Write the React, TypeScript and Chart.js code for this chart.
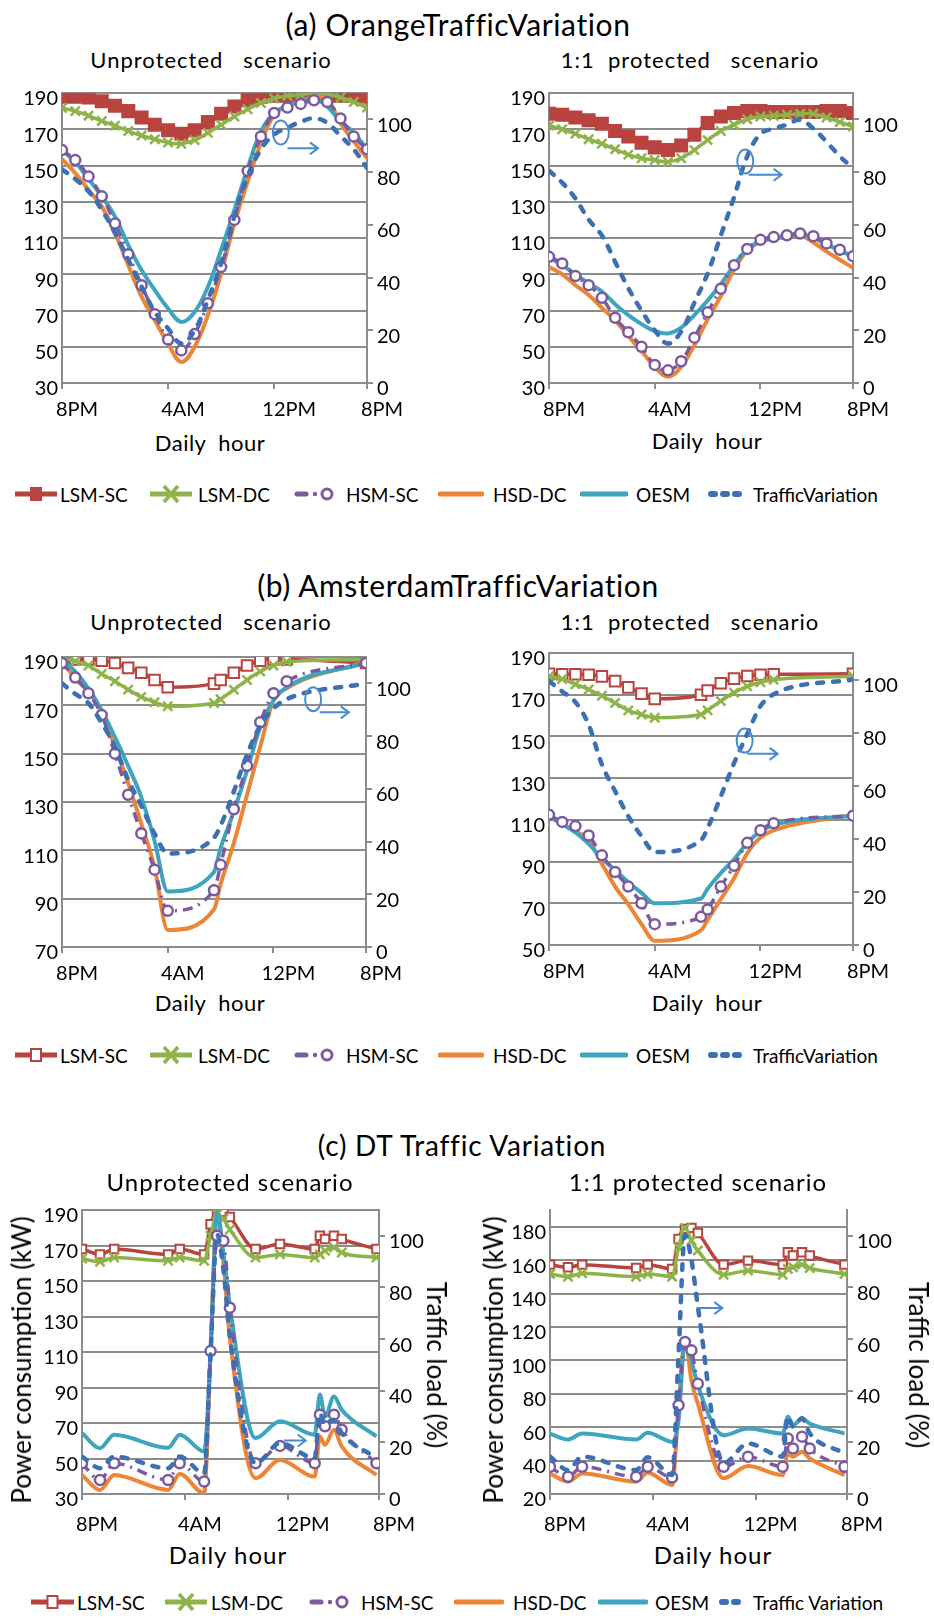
import React, { useEffect, useRef } from "react";
import { Chart, registerables } from "chart.js";

Chart.register(...registerables);

const FONT = "Lato, 'Open Sans', 'DejaVu Sans', sans-serif";

// ---------------- Data ----------------
const SERIES_NAMES = ["LSM-SC", "LSM-DC", "HSM-SC", "HSD-DC", "OESM", "TrafficVariation"];
const SERIES_NAMES_C = ["LSM-SC", "LSM-DC", "HSM-SC", "HSD-DC", "OESM", "Traffic Variation"];
const X_TICK_LABELS = ["8PM", "4AM", "12PM", "8PM"];
const RIGHT_TICKS = [0, 20, 40, 60, 80, 100];
const LEFT_TICKS_A = [30, 50, 70, 90, 110, 130, 150, 170, 190];
const LEFT_TICKS_B_UNPROT = [70, 90, 110, 130, 150, 170, 190];
const LEFT_TICKS_B_PROT = [50, 70, 90, 110, 130, 150, 170, 190];
const LEFT_TICKS_C_UNPROT = [30, 50, 70, 90, 110, 130, 150, 170, 190];
const LEFT_TICKS_C_PROT = [20, 40, 60, 80, 100, 120, 140, 160, 180];

// (a) Orange traffic variation, hourly from 8PM
const HOURS_A = [0, 1, 2, 3, 4, 5, 6, 7, 8, 9, 10, 11, 12, 13, 14, 15, 16, 17, 18, 19, 20, 21, 22, 23];
const A_UNP_LSM_SC = [188, 188, 187.5, 185.5, 183, 180, 176.5, 172.5, 169.5, 167.5, 169.5, 174, 178.5, 182.5, 186, 188, 188.5, 188.5, 188.5, 188.5, 188.5, 188.5, 188.5, 188];
const A_UNP_LSM_DC = [181.7, 180, 177.5, 174.5, 172, 169, 166.5, 164.5, 162.7, 162, 164, 168, 172.5, 177, 181, 184.5, 187, 188.5, 189, 190, 189.5, 187.5, 185, 182];
const A_UNP_HSM_SC = [158.5, 153, 144, 133, 118, 101, 84, 68, 54, 48, 57, 74, 94, 120, 147, 166, 179, 182, 184, 186, 185, 176, 166, 159];
const A_UNP_HSD_DC = [153.5, 145.8, 136.5, 127.3, 112.6, 95, 77.6, 64.6, 51.7, 41.6, 50, 67.4, 90.5, 118, 141, 162.4, 178, 183, 185.4, 187.6, 186.3, 173.4, 163.3, 154];
const A_UNP_OESM = [158.7, 151.8, 142.6, 132.9, 121.8, 106.1, 92.3, 81.2, 71.1, 63.7, 69.2, 83, 103.4, 125.5, 148.6, 168.8, 179, 183, 185.4, 186.9, 182.6, 174.3, 168.2, 158.7];
const A_UNP_TRAFFIC = [81, 77.4, 72.7, 65.7, 56.9, 46.7, 36.5, 27, 20.7, 15, 20, 31.5, 45.4, 63.2, 78.4, 88.6, 94.3, 96.8, 99.1, 100.4, 98.7, 93.7, 88.6, 81.6];

const A_PRO_LSM_SC = [178.6, 178, 176.5, 175, 173, 169, 166, 162.5, 160, 158.5, 161, 167, 173.5, 177, 179, 180, 180, 179.5, 179.5, 179.5, 179.5, 180, 180, 179];
const A_PRO_LSM_DC = [172, 170, 167.5, 164.5, 162, 159, 156, 154, 153, 152, 154, 158.5, 164, 169, 172.5, 175.5, 177, 177.5, 178, 178.5, 178.5, 176.5, 174, 171.5];
const A_PRO_HSM_SC = [99.6, 96, 89, 84, 77, 66, 58, 50, 40, 37, 42, 55, 69, 82, 95, 104, 109, 110.5, 111.5, 112.5, 111, 107, 103.5, 100];
const A_PRO_HSD_DC = [94, 90, 84, 78.5, 71.5, 64.5, 56, 47.5, 39, 33.4, 39, 51, 65, 78, 92.5, 103, 108, 109.5, 110.5, 111.5, 107.5, 102.5, 98, 93.5];
const A_PRO_OESM = [99.2, 95, 90, 85, 80.5, 73.5, 67.5, 62.5, 58.7, 57.3, 60.5, 67.5, 75.5, 84.5, 95, 104, 108, 110, 111.2, 112.2, 110, 106.5, 103, 100];
const A_PRO_TRAFFIC = [80.5, 76, 70, 62, 56, 46, 36, 27.5, 20, 15, 19.5, 30.5, 41.5, 56, 70.5, 86, 94.5, 96.5, 98, 99.8, 96.5, 91.5, 86, 81.5];

// (b) Amsterdam traffic variation
const HOURS_B = [0, 1, 2, 3, 4, 5, 6, 7, 8, 11.5, 12, 13, 14, 15, 16, 17, 23];
const B_UNP_LSM_SC = [187.5, 189, 189, 188.5, 187.5, 185.5, 183.5, 180.5, 177.5, 179, 180.5, 183.5, 186.5, 188.5, 189, 189, 187.5];
const B_UNP_LSM_DC = [189.6, 188.3, 186.5, 183, 180, 176.5, 173.5, 171.3, 169.6, 171, 172.5, 176.5, 180.5, 184, 186.5, 188, 189];
const B_UNP_HSM_SC = [187.5, 181.5, 175, 166, 150, 133, 117, 102, 85, 93.5, 104, 127, 145, 163, 175, 180, 187.5];
const B_UNP_HSD_DC = [189, 181, 176, 167, 153, 138, 121, 103, 77, 85.5, 96, 113, 133, 153, 172, 177, 188];
const B_UNP_OESM = [189, 184, 177, 168, 157, 145, 132, 114, 93, 101, 111, 126, 143, 161, 172, 177.5, 187.5];
const B_UNP_TRAFFIC = [100, 96, 92.5, 85, 76, 63.5, 53.5, 43, 35.5, 41.5, 46, 59, 73, 84, 90.5, 94, 100];

const B_PRO_LSM_SC = [180, 179.8, 179.8, 179.6, 178.8, 176.5, 173.5, 170.5, 168, 170, 172, 175.5, 177.7, 179, 179.6, 179.8, 180];
const B_PRO_LSM_DC = [178.8, 177.5, 175, 172.5, 169.5, 166, 162.5, 160.5, 159, 160.5, 162.5, 167, 171, 174, 176, 177.2, 178.8];
const B_PRO_HSM_SC = [112.4, 109, 107, 102.5, 93, 85, 78, 70, 60, 63.5, 67, 78, 88, 99, 105, 108.4, 112];
const B_PRO_HSD_DC = [111.6, 108, 104.5, 100.5, 89, 78, 69.5, 60, 52, 57, 62, 72, 82, 94, 101.5, 105, 112.4];
const B_PRO_OESM = [111.6, 108, 104, 98.5, 91.5, 86, 80, 75, 70, 72.3, 77, 84.5, 91, 99, 104.5, 107.5, 112];
const B_PRO_TRAFFIC = [99.4, 95.5, 91.5, 83, 68, 58, 48.5, 41, 35, 39.5, 44, 56, 68.5, 79.5, 90, 94.5, 100];

// (c) DT traffic variation
const HOURS_C = [0, 1.4, 2.5, 6.7, 7.6, 9.5, 10, 10.5, 11, 11.5, 13.5, 15.4, 18.1, 18.5, 18.9, 19.6, 20.2, 22.9];
const C_UNP_LSM_SC = [168, 165, 168, 165, 168, 165, 182, 188.5, 189, 186, 168, 170.8, 168, 175.5, 173.6, 175.5, 173.6, 168];
const C_UNP_LSM_DC = [162.7, 160.8, 163.2, 161.4, 163.2, 161.4, 175.5, 187.7, 185, 179, 163.2, 165, 163.2, 165, 167, 168.9, 166, 163.2];
const C_UNP_HSM_SC = [47.3, 37.9, 47.3, 37.9, 47.3, 37, 110.5, 175.5, 172.7, 135, 47.3, 57.1, 47.3, 74.7, 68.1, 74.7, 66.2, 47.3];
const C_UNP_HSD_DC = [40.7, 32.3, 40.7, 32.3, 41.3, 30.4, 109.5, 189.6, 160, 118, 38.9, 49.2, 39.8, 62.4, 57.7, 66.2, 56.8, 40.7];
const C_UNP_OESM = [64.3, 55.8, 63.4, 56, 63.4, 54, 109.5, 188.7, 166, 136, 61.5, 71, 63.4, 86, 73.6, 85, 77.5, 62.4];
const C_UNP_TRAFFIC = [14.5, 10, 14.5, 10, 14.5, 8, 54.7, 100.6, 87, 61.1, 11.9, 19.7, 13.9, 31.3, 26.8, 28.8, 23.6, 13.9];

const C_PRO_LSM_SC = [157.3, 155.7, 157.3, 155.3, 157.3, 154.7, 172.7, 178.7, 179.3, 176.3, 157.3, 159.7, 157.3, 164.7, 162.7, 164.7, 162.7, 157.3];
const C_PRO_LSM_DC = [151.7, 150.1, 152.1, 150.1, 151.7, 150.1, 167.7, 179.3, 171.7, 165.7, 151.3, 153.7, 151.3, 154.7, 155.7, 157.3, 155.3, 151.7];
const C_PRO_HSM_SC = [36.3, 30.3, 36.3, 30.3, 36.3, 29.9, 73.1, 111, 106, 86, 36.3, 42.3, 36.3, 53.2, 47.3, 54.3, 47.3, 36.3];
const C_PRO_HSD_DC = [32.3, 27.4, 32.3, 27.4, 32.7, 25.4, 72, 112.9, 88, 74, 29.4, 36.7, 31.3, 44.3, 42.3, 45.3, 41.3, 31.3];
const C_PRO_OESM = [56.2, 52.6, 56.2, 52.6, 56.6, 51.2, 64.2, 112.9, 100, 85, 55.2, 59.2, 56.2, 66.2, 61.2, 65.2, 62.2, 56.2];
const C_PRO_TRAFFIC = [14.5, 9.3, 14.5, 9.3, 14.2, 7.4, 54.5, 100.4, 90.7, 72.6, 11.9, 19.6, 14.5, 30, 26.1, 29.3, 23.5, 15.8];

// ---------------- Styles ----------------
const RED = "#b8433f";
const GREEN = "#8db34a";
const PURPLE = "#7b5aa0";
const ORANGE = "#ec8535";
const TEAL = "#3da5bd";
const BLUE = "#3d6fb3";
const ANNOT = "#4a8bd0";
const GRID = "#8c8c8c";

type Panel = {
  left: number; top: number; width: number; height: number;
  plotL: number; plotR: number; plotT: number; plotB: number;
  hours: number[]; xMax: number; xPad: number;
  yMin: number; yMax: number; yTicks: number[];
  series: number[][];
  hollow: boolean; squareR: number;
  smooth: "bezier" | "monotone";
  ellipse?: [number, number];
  arrow: [number, number, number];
};

const PANELS: Panel[] = [
  { left: 0, top: 76, width: 465, height: 344, plotL: 62, plotR: 367, plotT: 93, plotB: 383,
    hours: HOURS_A, xMax: 23, xPad: 9, yMin: 30, yMax: 190, yTicks: LEFT_TICKS_A,
    series: [A_UNP_LSM_SC, A_UNP_LSM_DC, A_UNP_HSM_SC, A_UNP_HSD_DC, A_UNP_OESM, A_UNP_TRAFFIC],
    hollow: false, squareR: 8.5, smooth: "bezier", ellipse: [16.5, 95], arrow: [17.0, 19.3, 89] },
  { left: 467, top: 76, width: 467, height: 344, plotL: 549, plotR: 853, plotT: 93, plotB: 383,
    hours: HOURS_A, xMax: 23, xPad: 9, yMin: 30, yMax: 190, yTicks: LEFT_TICKS_A,
    series: [A_PRO_LSM_SC, A_PRO_LSM_DC, A_PRO_HSM_SC, A_PRO_HSD_DC, A_PRO_OESM, A_PRO_TRAFFIC],
    hollow: false, squareR: 8.5, smooth: "bezier", ellipse: [14.85, 84], arrow: [15.1, 17.6, 79] },
  { left: 0, top: 640, width: 465, height: 340, plotL: 62, plotR: 366, plotT: 657, plotB: 947,
    hours: HOURS_B, xMax: 23, xPad: 9, yMin: 70, yMax: 190, yTicks: LEFT_TICKS_B_UNPROT,
    series: [B_UNP_LSM_SC, B_UNP_LSM_DC, B_UNP_HSM_SC, B_UNP_HSD_DC, B_UNP_OESM, B_UNP_TRAFFIC],
    hollow: true, squareR: 7.5, smooth: "monotone", ellipse: [19.0, 94], arrow: [19.5, 21.7, 89] },
  { left: 467, top: 636, width: 467, height: 344, plotL: 549, plotR: 853, plotT: 653, plotB: 945,
    hours: HOURS_B, xMax: 23, xPad: 9, yMin: 50, yMax: 190, yTicks: LEFT_TICKS_B_PROT,
    series: [B_PRO_LSM_SC, B_PRO_LSM_DC, B_PRO_HSM_SC, B_PRO_HSD_DC, B_PRO_OESM, B_PRO_TRAFFIC],
    hollow: true, squareR: 7.5, smooth: "monotone", ellipse: [14.8, 77], arrow: [15.0, 17.3, 72] },
  { left: 0, top: 1193, width: 465, height: 339, plotL: 82, plotR: 379, plotT: 1210, plotB: 1494,
    hours: HOURS_C, xMax: 23.1, xPad: 13, yMin: 30, yMax: 190, yTicks: LEFT_TICKS_C_UNPROT,
    series: [C_UNP_LSM_SC, C_UNP_LSM_DC, C_UNP_HSM_SC, C_UNP_HSD_DC, C_UNP_OESM, C_UNP_TRAFFIC],
    hollow: true, squareR: 6, smooth: "monotone", arrow: [15.7, 17.4, 20.7] },
  { left: 467, top: 1193, width: 467, height: 339, plotL: 550, plotR: 847, plotT: 1210, plotB: 1494,
    hours: HOURS_C, xMax: 23.1, xPad: 13, yMin: 20, yMax: 190, yTicks: LEFT_TICKS_C_PROT,
    series: [C_PRO_LSM_SC, C_PRO_LSM_DC, C_PRO_HSM_SC, C_PRO_HSD_DC, C_PRO_OESM, C_PRO_TRAFFIC],
    hollow: true, squareR: 6, smooth: "monotone", arrow: [11.4, 13.4, 72] },
];

function hintPlugin(p: Panel) {
  return {
    id: "axisHint",
    afterDatasetsDraw(chart: any) {
      const { ctx, scales } = chart;
      const xs = scales.x;
      const ys = scales.y1;
      ctx.save();
      ctx.strokeStyle = ANNOT;
      ctx.lineWidth = 2;
      if (p.ellipse) {
        ctx.beginPath();
        ctx.ellipse(xs.getPixelForValue(p.ellipse[0]), ys.getPixelForValue(p.ellipse[1]), 8, 12, 0, 0, Math.PI * 2);
        ctx.stroke();
      }
      const x0 = xs.getPixelForValue(p.arrow[0]);
      const x1 = xs.getPixelForValue(p.arrow[1]);
      const yy = ys.getPixelForValue(p.arrow[2]);
      ctx.beginPath();
      ctx.moveTo(x0, yy);
      ctx.lineTo(x1, yy);
      ctx.moveTo(x1 - 8, yy - 6);
      ctx.lineTo(x1, yy);
      ctx.lineTo(x1 - 8, yy + 6);
      ctx.stroke();
      ctx.restore();
    },
  };
}

function makeConfig(p: Panel): any {
  const pts = (vals: number[]) => p.hours.map((h, i) => ({ x: h, y: vals[i] }));
  const curve = p.smooth === "monotone"
    ? { cubicInterpolationMode: "monotone" as const, tension: 0.4 }
    : { tension: 0.4 };
  const tickFont = { family: FONT, size: 20 };
  const datasets = [
    { label: SERIES_NAMES[5], data: pts(p.series[5]), yAxisID: "y1", borderColor: BLUE, borderWidth: 4.5,
      borderDash: [6, 10], borderCapStyle: "round", pointRadius: 0, order: 0, ...curve },
    { label: SERIES_NAMES[2], data: pts(p.series[2]), yAxisID: "y", borderColor: PURPLE, borderWidth: 3.5,
      borderDash: [10, 6, 2, 6], pointStyle: "circle", pointRadius: 5, pointBorderWidth: 2.5,
      pointBackgroundColor: "#ffffff", pointBorderColor: PURPLE, order: 1, ...curve },
    { label: SERIES_NAMES[4], data: pts(p.series[4]), yAxisID: "y", borderColor: TEAL, borderWidth: 4,
      pointRadius: 0, order: 2, ...curve },
    { label: SERIES_NAMES[3], data: pts(p.series[3]), yAxisID: "y", borderColor: ORANGE, borderWidth: 4,
      pointRadius: 0, order: 3, ...curve },
    { label: SERIES_NAMES[1], data: pts(p.series[1]), yAxisID: "y", borderColor: GREEN, borderWidth: 3.5,
      pointStyle: "crossRot", pointRadius: 6.5, pointBorderWidth: 2.5, pointBorderColor: GREEN, order: 4, ...curve },
    { label: SERIES_NAMES[0], data: pts(p.series[0]), yAxisID: "y", borderColor: RED, borderWidth: 3.5,
      pointStyle: "rect", pointRadius: p.squareR, pointBorderWidth: 2,
      pointBackgroundColor: p.hollow ? "#ffffff" : RED, pointBorderColor: RED, order: 5, ...curve },
  ];
  const xTicks = [0, 8, 16, p.xMax];
  return {
    type: "line",
    data: { datasets },
    options: {
      responsive: false,
      animation: false,
      devicePixelRatio: 1,
      events: [],
      layout: { padding: { top: p.plotT - p.top, left: 0, right: 0, bottom: 0 } },
      plugins: { legend: { display: false }, tooltip: { enabled: false }, title: { display: false } },
      scales: {
        x: {
          type: "linear", min: 0, max: p.xMax,
          afterBuildTicks: (s: any) => { s.ticks = xTicks.map((v) => ({ value: v })); },
          ticks: { callback: (_v: any, i: number) => X_TICK_LABELS[i], font: tickFont, color: "#000",
            labelOffset: 15, padding: p.xPad, maxRotation: 0, minRotation: 0, autoSkip: false },
          grid: { drawOnChartArea: false, color: GRID, lineWidth: 2, tickLength: 6 },
          border: { color: GRID, width: 2 },
          afterFit: (s: any) => { s.height = p.top + p.height - p.plotB; },
        },
        y: {
          position: "left", min: p.yMin, max: p.yMax,
          afterBuildTicks: (s: any) => { s.ticks = p.yTicks.map((v) => ({ value: v })); },
          ticks: { font: tickFont, color: "#000", padding: 4, labelOffset: 6 },
          grid: { color: GRID, lineWidth: 2, drawTicks: false },
          border: { color: GRID, width: 2 },
          afterFit: (s: any) => { s.width = p.plotL - p.left; },
        },
        y1: {
          position: "right", min: 0, max: 110,
          afterBuildTicks: (s: any) => { s.ticks = RIGHT_TICKS.map((v) => ({ value: v })); },
          ticks: { font: tickFont, color: "#000", padding: 4, labelOffset: 6 },
          grid: { drawOnChartArea: false, color: GRID, lineWidth: 2, tickLength: 6 },
          border: { color: GRID, width: 2 },
          afterFit: (s: any) => { s.width = p.left + p.width - p.plotR; },
        },
      },
    },
    plugins: [hintPlugin(p)],
  };
}

function PanelChart({ p }: { p: Panel }) {
  const ref = useRef<HTMLCanvasElement | null>(null);
  useEffect(() => {
    if (!ref.current) return;
    const chart = new Chart(ref.current, makeConfig(p));
    return () => chart.destroy();
  }, [p]);
  return (
    <canvas ref={ref} width={p.width} height={p.height}
      style={{ position: "absolute", left: p.left, top: p.top, width: p.width, height: p.height }} />
  );
}

function Txt({ x, y, s, children, ls = 0, rot = 0, anchor = "middle" }:
  { x: number; y: number; s: number; children: any; ls?: number; rot?: number; anchor?: "middle" | "start" }) {
  return (
    <div style={{
      position: "absolute", left: x, top: y,
      transform: `translate(${anchor === "middle" ? "-50%" : "0"}, -50%) rotate(${rot}deg)`,
      fontFamily: FONT, fontSize: s, lineHeight: 1, whiteSpace: "pre", color: "#000", letterSpacing: ls,
    }}>{children}</div>
  );
}

function Icon({ kind, hollow, w }: { kind: number; hollow: boolean; w: number }) {
  const h = 20, cy = 10;
  if (kind === 0) return (
    <svg width={w} height={h}>
      <line x1={0} y1={cy} x2={w} y2={cy} stroke={RED} strokeWidth={5} />
      <rect x={w / 2 - 5} y={cy - 6} width={10} height={12} fill={hollow ? "#fff" : RED} stroke={RED} strokeWidth={2} />
    </svg>);
  if (kind === 1) return (
    <svg width={w} height={h}>
      <line x1={0} y1={cy} x2={w} y2={cy} stroke={GREEN} strokeWidth={5} />
      <line x1={w / 2 - 7} y1={cy - 8} x2={w / 2 + 7} y2={cy + 8} stroke={GREEN} strokeWidth={3.5} />
      <line x1={w / 2 - 7} y1={cy + 8} x2={w / 2 + 7} y2={cy - 8} stroke={GREEN} strokeWidth={3.5} />
    </svg>);
  if (kind === 2) return (
    <svg width={w} height={h}>
      <line x1={3} y1={cy} x2={12} y2={cy} stroke={PURPLE} strokeWidth={5} strokeLinecap="round" />
      <circle cx={21} cy={cy} r={2.2} fill={PURPLE} />
      <circle cx={33} cy={cy} r={5} fill="#fff" stroke={PURPLE} strokeWidth={3} />
    </svg>);
  if (kind === 3) return (
    <svg width={w} height={h}><line x1={2} y1={cy} x2={w - 2} y2={cy} stroke={ORANGE} strokeWidth={5} strokeLinecap="round" /></svg>);
  if (kind === 4) return (
    <svg width={w} height={h}><line x1={2} y1={cy} x2={w - 2} y2={cy} stroke={TEAL} strokeWidth={5} strokeLinecap="round" /></svg>);
  return (
    <svg width={w} height={h}><line x1={4} y1={cy} x2={w - 3} y2={cy} stroke={BLUE} strokeWidth={6} strokeLinecap="round" strokeDasharray="4 8" /></svg>);
}

// [icon left, text left, icon width]
const LEGEND_POS_AB: [number, number, number][] = [[15, 60, 42], [150, 198, 42], [294, 346, 42], [438, 493, 46], [580, 636, 48], [707, 753, 42]];
const LEGEND_POS_C: [number, number, number][] = [[31, 77, 43], [165, 211, 42], [309, 361, 46], [454, 513, 50], [598, 655, 50], [718, 753, 31]];

function Legend({ y, pos, names, hollow }: { y: number; pos: [number, number, number][]; names: string[]; hollow: boolean }) {
  return (
    <>
      {pos.map(([ix, tx, w], k) => (
        <React.Fragment key={k}>
          <div style={{ position: "absolute", left: ix, top: y - 10, width: w, height: 20 }}>
            <Icon kind={k} hollow={hollow} w={w} />
          </div>
          <Txt x={tx} y={y} s={19} anchor="start">{names[k]}</Txt>
        </React.Fragment>
      ))}
    </>
  );
}

export default function App() {
  return (
    <div style={{ position: "absolute", left: 0, top: 0, width: 934, height: 1619, background: "#fff", overflow: "hidden" }}>
      {PANELS.map((p, i) => <PanelChart key={i} p={p} />)}

      <Txt x={458} y={24} s={30} ls={0.6}>(a) OrangeTrafficVariation</Txt>
      <Txt x={211} y={60} s={22} ls={1}>Unprotected   scenario</Txt>
      <Txt x={690} y={60} s={22} ls={1}>1:1  protected   scenario</Txt>
      <Txt x={210} y={443} s={22} ls={0.5}>Daily  hour</Txt>
      <Txt x={707} y={441} s={22} ls={0.5}>Daily  hour</Txt>
      <Legend y={494} pos={LEGEND_POS_AB} names={SERIES_NAMES} hollow={false} />

      <Txt x={458} y={585} s={30} ls={0.6}>(b) AmsterdamTrafficVariation</Txt>
      <Txt x={211} y={622} s={22} ls={1}>Unprotected   scenario</Txt>
      <Txt x={690} y={622} s={22} ls={1}>1:1  protected   scenario</Txt>
      <Txt x={210} y={1003} s={22} ls={0.5}>Daily  hour</Txt>
      <Txt x={707} y={1003} s={22} ls={0.5}>Daily  hour</Txt>
      <Legend y={1055} pos={LEGEND_POS_AB} names={SERIES_NAMES} hollow={true} />

      <Txt x={462} y={1145} s={28} ls={0.8}>(c) DT Traffic Variation</Txt>
      <Txt x={230} y={1182} s={24} ls={1}>Unprotected scenario</Txt>
      <Txt x={698} y={1182} s={24} ls={1}>1:1 protected scenario</Txt>
      <Txt x={228} y={1555} s={24} ls={1}>Daily hour</Txt>
      <Txt x={713} y={1555} s={24} ls={1}>Daily hour</Txt>
      <Txt x={21} y={1360} s={26} rot={-90}>Power consumption (kW)</Txt>
      <Txt x={493} y={1360} s={26} rot={-90}>Power consumption (kW)</Txt>
      <Txt x={437} y={1365} s={26} rot={90}>Traffic load (%)</Txt>
      <Txt x={919} y={1365} s={26} rot={90}>Traffic load (%)</Txt>
      <Legend y={1602} pos={LEGEND_POS_C} names={SERIES_NAMES_C} hollow={true} />
    </div>
  );
}
